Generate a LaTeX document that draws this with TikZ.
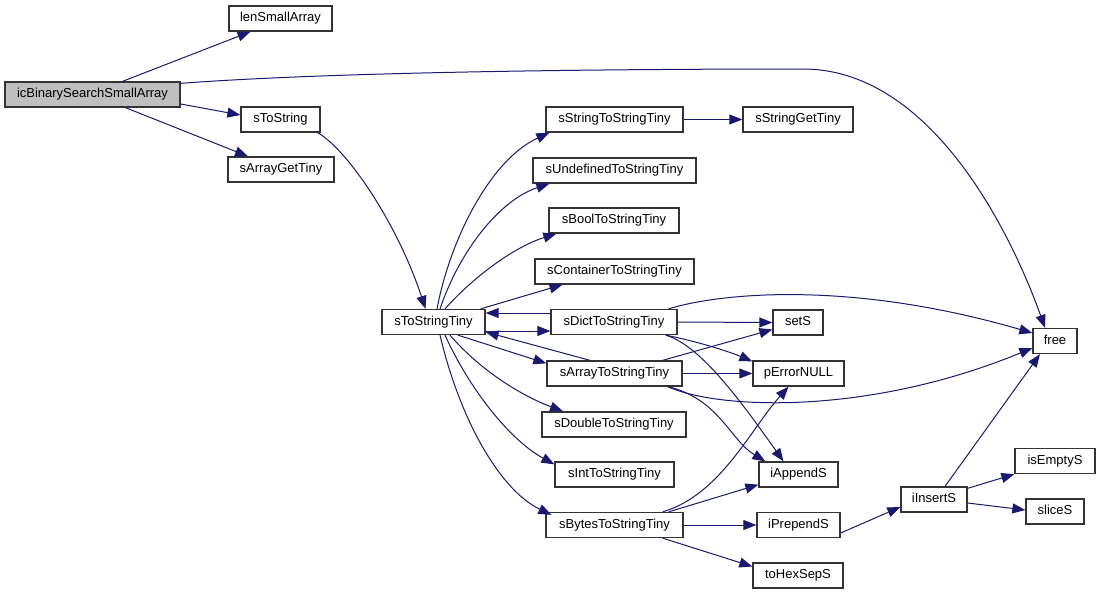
\documentclass[tikz,border=0pt]{standalone}
\usepackage{fontspec}
\setmainfont{Liberation Sans}
\usetikzlibrary{arrows.meta}
\definecolor{edgeblue}{HTML}{191970}
\definecolor{rootgray}{HTML}{BFBFBF}
\definecolor{boxline}{HTML}{333333}
\begin{document}
\begin{tikzpicture}[x=1pt,y=-1pt,
  fn/.style={draw=boxline, line width=1.3pt, fill=white, rectangle, inner sep=0pt,
    minimum height=25pt, text height=9.5pt, text depth=2.8pt,
    font=\fontsize{13}{15}\selectfont},
  e/.style={draw=edgeblue, line width=1pt, -{Triangle[length=13pt,width=10pt]}, fill=none}]
\useasboundingbox (0,0) rectangle (1100,595);
\fill[white] (0,0) rectangle (1100,595);
% nodes
\node[fn, fill=rootgray, minimum width=175pt] (icB) at (92.5,94.5) {icBinarySearchSmallArray};
\node[fn, minimum width=103pt] (len) at (280.5,18.5) {lenSmallArray};
\node[fn, minimum width=79pt] (sTS) at (280.5,119.5) {sToString};
\node[fn, minimum width=106pt] (sAGT) at (281,169.5) {sArrayGetTiny};
\node[fn, minimum width=103pt] (sTST) at (433.5,322) {sToStringTiny};
\node[fn, minimum width=137pt] (sSTST) at (614.5,119.5) {sStringToStringTiny};
\node[fn, minimum width=163pt] (sUnd) at (614.5,170.5) {sUndefinedToStringTiny};
\node[fn, minimum width=130pt] (sBool) at (614,220.5) {sBoolToStringTiny};
\node[fn, minimum width=159pt] (sCont) at (614.5,271.5) {sContainerToStringTiny};
\node[fn, minimum width=126pt] (sDict) at (614,322) {sDictToStringTiny};
\node[fn, minimum width=135pt] (sArr) at (614.5,373.5) {sArrayToStringTiny};
\node[fn, minimum width=144pt] (sDbl) at (614,424.5) {sDoubleToStringTiny};
\node[fn, minimum width=119pt] (sInt) at (614.5,474.5) {sIntToStringTiny};
\node[fn, minimum width=137pt] (sByt) at (614.5,525) {sBytesToStringTiny};
\node[fn, minimum width=110pt] (sSGT) at (798,119.5) {sStringGetTiny};
\node[fn, minimum width=50pt] (setS) at (798,322.5) {setS};
\node[fn, minimum width=91pt] (pErr) at (798.5,373.5) {pErrorNULL};
\node[fn, minimum width=79pt] (iApp) at (798.5,474.5) {iAppendS};
\node[fn, minimum width=83pt] (iPre) at (798.5,525) {iPrependS};
\node[fn, minimum width=90pt] (toHex) at (798,575.5) {toHexSepS};
\node[fn, minimum width=44pt] (free) at (1055,341) {free};
\node[fn, minimum width=66pt] (iIns) at (934,499.5) {iInsertS};
\node[fn, minimum width=80pt] (isEmp) at (1055,461) {isEmptyS};
\node[fn, minimum width=58pt] (slice) at (1055,511.5) {sliceS};
% edges
\draw[e] ([xshift=30]icB.north) -- ([xshift=-30]len.south);
\draw[e] ([yshift=-2]icB.north east) .. controls (330,72) and (600,69) .. (803,69)
  .. controls (930,69) and (1010,230) .. ([xshift=-10]free.north);
\draw[e] ([yshift=-9.5]icB.east) -- ([yshift=4.5]sTS.west);
\draw[e] ([xshift=33]icB.south) -- ([xshift=-33]sAGT.north);
\draw[e] ([xshift=-3]sTS.south east) .. controls (348,150) and (398,225) .. ([xshift=-8]sTST.north);
\draw[e] ([xshift=3.5]sTST.north) .. controls (450,240) and (490,160) .. ([xshift=4]sSTST.south west);
\draw[e] ([xshift=6.5]sTST.north) .. controls (460,250) and (500,200) .. ([xshift=17]sUnd.south west);
\draw[e] ([xshift=11.5]sTST.north) .. controls (480,270) and (520,245) .. ([xshift=8]sBool.south west);
\draw[e] ([xshift=-5]sTST.north east) -- ([xshift=-52]sCont.south);
\draw[e] ([yshift=9]sDict.west) -- ([yshift=9]sTST.east);
\draw[e] ([yshift=-9]sTST.east) -- ([yshift=-9]sDict.west);
\draw[e] ([xshift=-24.5]sArr.north) -- ([yshift=-10]sTST.east);
\draw[e] ([xshift=24.5]sTST.south) -- ([yshift=-3]sArr.north west);
\draw[e] ([xshift=16.5]sTST.south) .. controls (480,370) and (520,395) .. ([xshift=-51]sDbl.north);
\draw[e] ([xshift=11.5]sTST.south) .. controls (470,390) and (510,440) .. ([yshift=-3]sInt.north west);
\draw[e] ([xshift=6.5]sTST.south) .. controls (460,420) and (500,490) .. ([xshift=6,yshift=-3]sByt.north west);
\draw[e] (sSTST.east) -- (sSGT.west);
\draw[e] ([xshift=-9]sDict.north east) .. controls (720,293) and (850,280) .. ([yshift=8]free.west);
\draw[e] (sDict.east) -- (setS.west);
\draw[e] ([xshift=-12]sDict.south east) .. controls (700,342) and (730,352) .. ([yshift=-1]pErr.north west);
\draw[e] ([xshift=-12]sDict.south east) .. controls (700,345) and (740,400) .. ([xshift=-15]iApp.north);
\draw[e] ([xshift=-20]sArr.north east) -- ([yshift=-7]setS.west);
\draw[e] (sArr.east) -- (pErr.west);
\draw[e] ([xshift=-15]sArr.south east) .. controls (720,410) and (870,415) .. ([yshift=-7]free.west);
\draw[e] ([xshift=-14]sArr.south east) .. controls (720,400) and (730,440) .. ([xshift=7]iApp.north west);
\draw[e] ([xshift=-21]sByt.north east) .. controls (720,495) and (750,430) .. ([xshift=-10]pErr.south);
\draw[e] ([xshift=-15]sByt.north east) -- ([yshift=3]iApp.south west);
\draw[e] (sByt.east) -- (iPre.west);
\draw[e] ([xshift=-21]sByt.south east) -- ([yshift=9]toHex.west);
\draw[e] ([yshift=-8]iPre.east) -- ([yshift=-7.5]iIns.west);
\draw[e] ([xshift=11]iIns.north) -- ([xshift=-15]free.south);
\draw[e] ([yshift=-2]iIns.north east) -- (isEmp.south west);
\draw[e] ([yshift=-3.5]iIns.east) -- ([yshift=1.5]slice.west);
\end{tikzpicture}
\end{document}
